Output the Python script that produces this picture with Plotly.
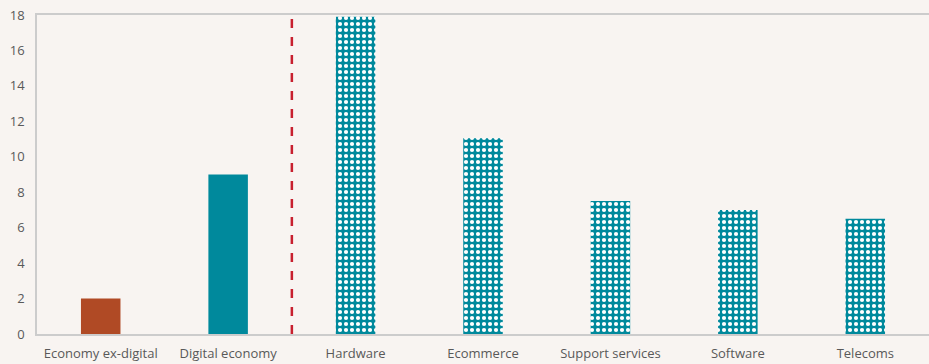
import plotly.graph_objects as go

categories = ["Economy ex-digital", "Digital economy", "Hardware", "Ecommerce",
              "Support services", "Software", "Telecoms"]
values = [2.0, 9.0, 17.9, 11.05, 7.5, 7.0, 6.5]
solid_colors = ["#b04a25", "#00899c"]
pattern_color = "#00899c"
y_ticks = [0, 2, 4, 6, 8, 10, 12, 14, 16, 18]
divider_pos = 1.5

fig = go.Figure()
# solid bars
fig.add_trace(go.Bar(
    x=categories[:2], y=values[:2],
    marker=dict(color=solid_colors, line=dict(width=0)),
    width=0.31, hoverinfo="x+y",
))
# patterned bars
fig.add_trace(go.Bar(
    x=categories[2:], y=values[2:],
    marker=dict(color=pattern_color, line=dict(width=0),
                pattern=dict(shape=".", fgcolor="white", bgcolor=pattern_color,
                             fgopacity=1, fillmode="overlay", size=6, solidity=0.38)),
    width=0.31, hoverinfo="x+y",
))

fig.add_shape(type="line", xref="x", yref="y", x0=divider_pos, x1=divider_pos,
              y0=0, y1=18, line=dict(color="#c8202f", width=2.5, dash="dash"))

bg = "#f8f4f1"
fig.update_layout(
    width=929, height=364,
    margin=dict(l=37, r=0, t=15, b=30),
    paper_bgcolor=bg, plot_bgcolor=bg,
    showlegend=False,
    barmode="overlay",
    font=dict(family="Open Sans, Noto Sans, sans-serif", size=13, color="#595959"),
)
fig.update_xaxes(
    categoryorder="array", categoryarray=categories,
    showline=True, linecolor="#cccccc", linewidth=2, mirror=True,
    ticks="outside", ticklen=6, tickcolor=bg, showgrid=False,
    tickfont=dict(size=13, color="#595959"),
)
fig.update_yaxes(
    range=[0, 18], tickvals=y_ticks, showgrid=False, zeroline=False,
    showline=True, linecolor="#cccccc", linewidth=1.5,
    ticks="outside", ticklen=8, tickcolor=bg,
    tickfont=dict(size=13, color="#595959"),
)

fig.write_html("out.html")
